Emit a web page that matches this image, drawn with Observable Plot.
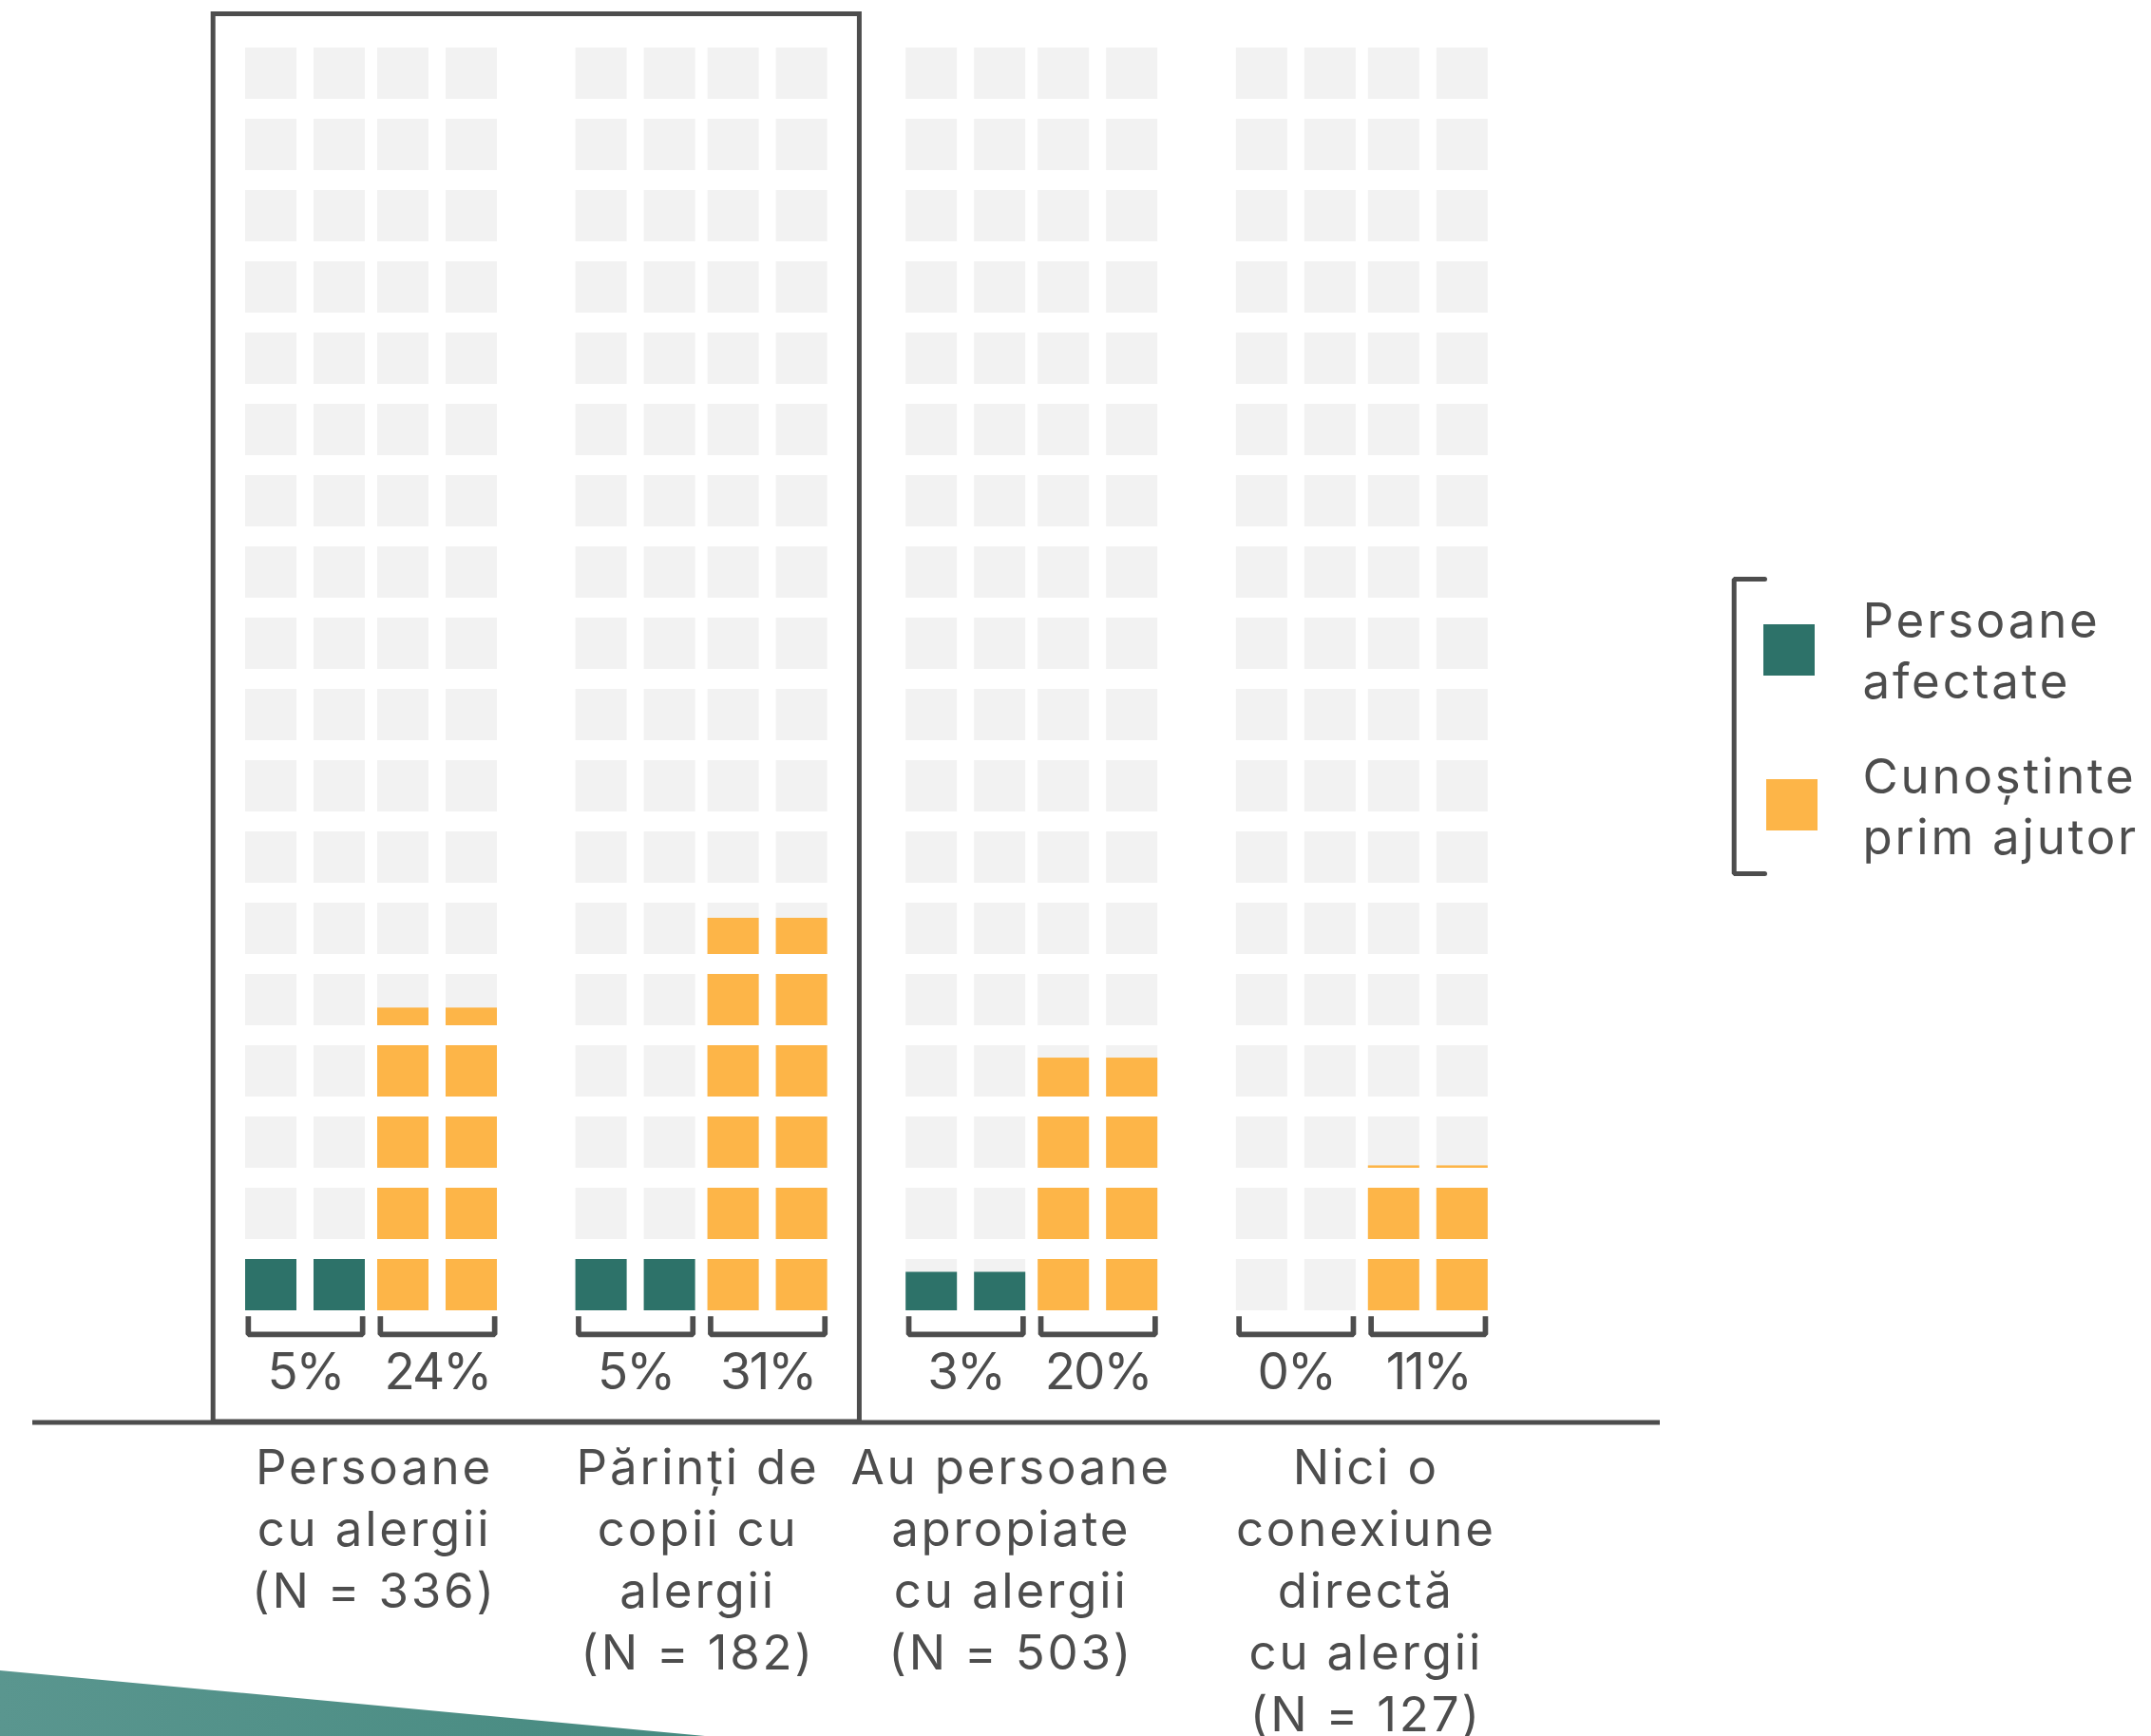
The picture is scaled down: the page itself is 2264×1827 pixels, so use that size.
<!DOCTYPE html>
<html>
<head>
<meta charset="utf-8">
<script src="https://cdn.jsdelivr.net/npm/d3@7"></script>
<script src="https://cdn.jsdelivr.net/npm/@observablehq/plot@0.6"></script>
<style>
  html, body { margin: 0; padding: 0; background: #ffffff; }
  #chart { width: 2264px; height: 1827px; overflow: hidden; }
</style>
</head>
<body>
<div id="chart"></div>
<script>
// ---------------- DATA ----------------
const groups = [
  "Persoane\ncu alergii\n(N = 336)",
  "Părinți de\ncopii cu\nalergii\n(N = 182)",
  "Au persoane\napropiate\ncu alergii\n(N = 503)",
  "Nici o\nconexiune\ndirectă\ncu alergii\n(N = 127)"
];
const seriesNames = ["Persoane\nafectate", "Cunoștinte\nprim ajutor"];
const affected = [5.0, 5.0, 3.0, 0.0];          // % persoane afectate
const firstAid = [23.6, 30.6, 19.7, 11.3];      // % cunoștinte prim ajutor
const affectedLabels = ["5%", "5%", "3%", "0%"];
const firstAidLabels = ["24%", "31%", "20%", "11%"];

// ---------------- STYLE / LAYOUT ----------------
const colors = ["#2d7269", "#fdb548"];
const emptyColor = "#f2f2f2";
const ink = "#4d4d4d";
const font = "Inter, 'Open Sans', sans-serif";

const W = 2264, H = 1827;
const ROWS = 18, COLS = 2;
const rowStep = 100 / ROWS;       // % per row of cells
const pxPerPct = 13.5;
const baseY = 1379;               // pixel row of 0 %
const cellH = 54 / pxPerPct;      // cell height in %
const gx0 = 258, groupStep = 347.6, pairStep = 139, colStep = 72, cellW = 54;
const pairW = colStep + cellW;
const labelShift = [3, -4, -22, 4];
const Y = px => (baseY - px) / pxPerPct;
const colX = (g, s, c) => gx0 + g * groupStep + s * pairStep + c * colStep;

const seriesValues = [affected, firstAid];
const seriesLabels = [affectedLabels, firstAidLabels];

// background cells
const background = [];
groups.forEach((_, g) => {
  for (let s = 0; s < 2; s++)
    for (let c = 0; c < COLS; c++)
      for (let r = 0; r < ROWS; r++)
        background.push({x1: colX(g, s, c), x2: colX(g, s, c) + cellW, y1: r * rowStep, y2: r * rowStep + cellH});
});

// filled cells (each column filled up to the value)
const filled = [];
groups.forEach((_, g) => {
  for (let s = 0; s < 2; s++) {
    const v = seriesValues[s][g];
    for (let c = 0; c < COLS; c++)
      for (let r = 0; r < ROWS; r++) {
        const lo = r * rowStep;
        if (v > lo) filled.push({x1: colX(g, s, c), x2: colX(g, s, c) + cellW, y1: lo, y2: Math.min(v, lo + cellH), color: colors[s]});
      }
  }
});

// brackets under each pair + percentage labels
const bw = 5.7;
const brackets = [];
const pctText = [];
groups.forEach((_, g) => {
  for (let s = 0; s < 2; s++) {
    const x0 = colX(g, s, 0) + bw / 2, x1 = colX(g, s, 0) + pairW - bw / 2;
    const top = Y(1384.7), bot = Y(1406.7 - bw / 2);
    const id = g * 2 + s;
    brackets.push({id, x: x0, y: top}, {id, x: x0, y: bot}, {id, x: x1, y: bot}, {id, x: x1, y: top});
    pctText.push({x: colX(g, s, 0) + pairW / 2, y: Y(1461.7), text: seriesLabels[s][g]});
  }
});

// category labels
const catFs = 51, catLH = 65 / 51;
const catText = groups.map((t, g) => ({
  x: colX(g, 0, 0) + (pairStep + pairW) / 2 + labelShift[g],
  y: Y(1561.7 - 0.71 * catLH * catFs),
  text: t
}));

// legend
const legFs = 51, legLH = 64.3 / 51;
const legendSw = [
  {x1: 1856, x2: 1910, y1: Y(711), y2: Y(657), color: colors[0]},
  {x1: 1859, x2: 1913, y1: Y(874), y2: Y(820), color: colors[1]}
];
const legendText = [
  {x: 1960, y: Y(670.7 - 0.71 * legLH * legFs), text: seriesNames[0]},
  {x: 1960, y: Y(834 - 0.71 * legLH * legFs), text: seriesNames[1]}
];
const legBracket = [
  {x: 1857, y: Y(609)}, {x: 1824.7, y: Y(609)}, {x: 1824.7, y: Y(919)}, {x: 1857, y: Y(919)}
];

// highlight box around the first two groups
const boxPad = 33.8;
const box = [{x1: colX(0, 0, 0) - boxPad, x2: colX(1, 1, 1) + cellW + boxPad, y1: Y(1496), y2: Y(14.5)}];

const chart = Plot.plot({
  width: W,
  height: H,
  margin: 0,
  style: {fontFamily: font, background: "#ffffff", overflow: "visible"},
  x: {domain: [0, W], range: [0, W], axis: null},
  y: {domain: [Y(H), Y(0)], range: [H, 0], axis: null},
  marks: [
    Plot.rect(background, {x1: "x1", x2: "x2", y1: "y1", y2: "y2", fill: emptyColor}),
    Plot.rect(filled, {x1: "x1", x2: "x2", y1: "y1", y2: "y2", fill: d => d.color}),
    Plot.line(brackets, {x: "x", y: "y", z: "id", stroke: ink, strokeWidth: bw, strokeLinejoin: "miter", strokeLinecap: "butt"}),
    Plot.text(pctText, {x: "x", y: "y", text: "text", textAnchor: "middle", lineAnchor: "bottom", fontSize: 53, fill: ink, fontFamily: font}),
    Plot.rect(box, {x1: "x1", x2: "x2", y1: "y1", y2: "y2", fill: "none", stroke: ink, strokeWidth: 5}),
    Plot.ruleY([Y(1496.5)], {x1: 34, x2: 1747, stroke: ink, strokeWidth: 5}),
    Plot.text(catText, {x: "x", y: "y", text: "text", textAnchor: "middle", lineAnchor: "top", lineHeight: catLH, fontSize: catFs, fill: ink, fontFamily: font}),
    Plot.line(legBracket, {x: "x", y: "y", stroke: ink, strokeWidth: 5, strokeLinejoin: "miter"}),
    Plot.rect(legendSw, {x1: "x1", x2: "x2", y1: "y1", y2: "y2", fill: d => d.color}),
    Plot.text(legendText, {x: "x", y: "y", text: "text", textAnchor: "start", lineAnchor: "top", lineHeight: legLH, fontSize: legFs, fill: ink, fontFamily: font})
  ]
});

const svg = d3.select(chart);
// wider tracking for labels (closer to the geometric original typeface)
svg.selectAll('g[font-size="51"] text, g[font-size="51"] tspan').style("letter-spacing", "2.8px");
svg.selectAll('g[font-size="53"] text').style("letter-spacing", "-2px");

// decorative teal wedge bottom-left
const defs = svg.insert("defs", ":first-child");
const grad = defs.append("linearGradient").attr("id", "wedgeGrad").attr("x1", "0%").attr("x2", "100%").attr("y1", "0%").attr("y2", "0%");
grad.append("stop").attr("offset", "0%").attr("stop-color", "#5a968f");
grad.append("stop").attr("offset", "100%").attr("stop-color", "#468a80");
svg.append("polygon")
  .attr("points", `0,1758 742,${H} 0,${H}`)
  .attr("fill", "url(#wedgeGrad)");

document.getElementById("chart").appendChild(chart);
</script>
</body>
</html>
